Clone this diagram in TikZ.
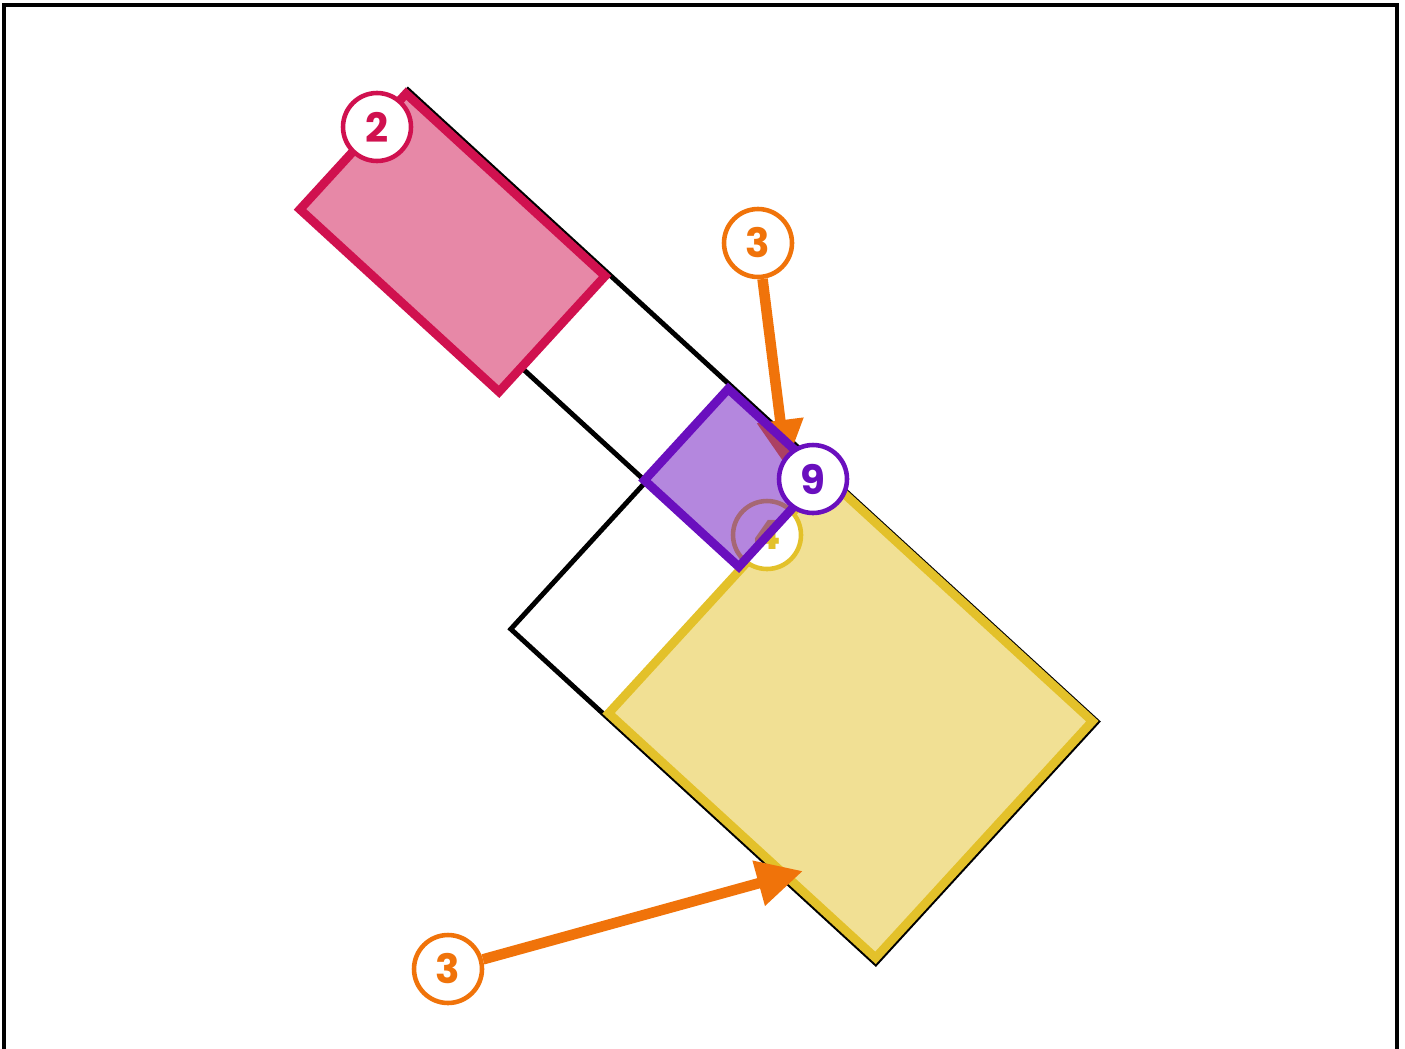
\documentclass[tikz,border=0pt]{standalone}
\usepackage{fontspec}
\setmainfont{Poppins}
\usetikzlibrary{arrows.meta}
\definecolor{RoseRed}{HTML}{D0114F}
\definecolor{GrapePurple}{HTML}{6A0FBE}
\definecolor{MustardYellow}{HTML}{E3C12A}
\definecolor{PumpkinOrange}{HTML}{F0730A}

\begin{document}
\begin{tikzpicture}[x=0.02cm, y=-0.02cm,
    badge/.style={circle, draw=#1, fill=white, text=#1, line width=2.6pt, minimum size=1.36cm, inner sep=0pt, font=\fontsize{23}{23}\selectfont\bfseries},
    pointer/.style={PumpkinOrange, line width=6pt, -{Triangle[length=0.92cm, width=0.88cm]}},
    panel/.style={draw=#1, fill=#1, fill opacity=0.5, line width=5pt, line join=miter}]
        \useasboundingbox (0,0) rectangle (1405,1048);
        \clip (0,0) rectangle (1405,1048);
        \draw[line width=1.8pt] (4,5) rectangle (1397,1100);
        % tilted outline and panels
        \begin{scope}[shift={(408,90)}, rotate=-42.5]
          \draw[line width=2.8pt, line join=miter] (274,128) -- (440,128) -- (440,328) -- (935,328) -- (935,0) -- (0,0) -- (0,162);
          \draw[panel=RoseRed] (1,4) -- (271,4) -- (271,161) -- (1,161) -- cycle;
          \draw[panel=MustardYellow] (569,3) -- (931,3) -- (931,324) -- (569,324) -- cycle;
        \end{scope}
        \node[badge=RoseRed] (two) at (377,127) {2};
        \node[badge=MustardYellow] (four) at (767,535) {4};
        \node[badge=PumpkinOrange] (threeTop) at (758,243) {3};
        \node[badge=PumpkinOrange] (threeBottom) at (448,969) {3};
        \coordinate (tipTop) at (786,466);
        \coordinate (tipBottom) at (803,871);
        \draw[pointer] (threeTop) -- (tipTop);
        \draw[pointer] (threeBottom) -- (tipBottom);
        \begin{scope}[shift={(408,90)}, rotate=-42.5]
          \draw[panel=GrapePurple] (438,4) -- (566,4) -- (566,128) -- (438,128) -- cycle;
        \end{scope}
        \node[badge=GrapePurple] (nine) at (813,479) {9};
      \end{tikzpicture}
\end{document}
